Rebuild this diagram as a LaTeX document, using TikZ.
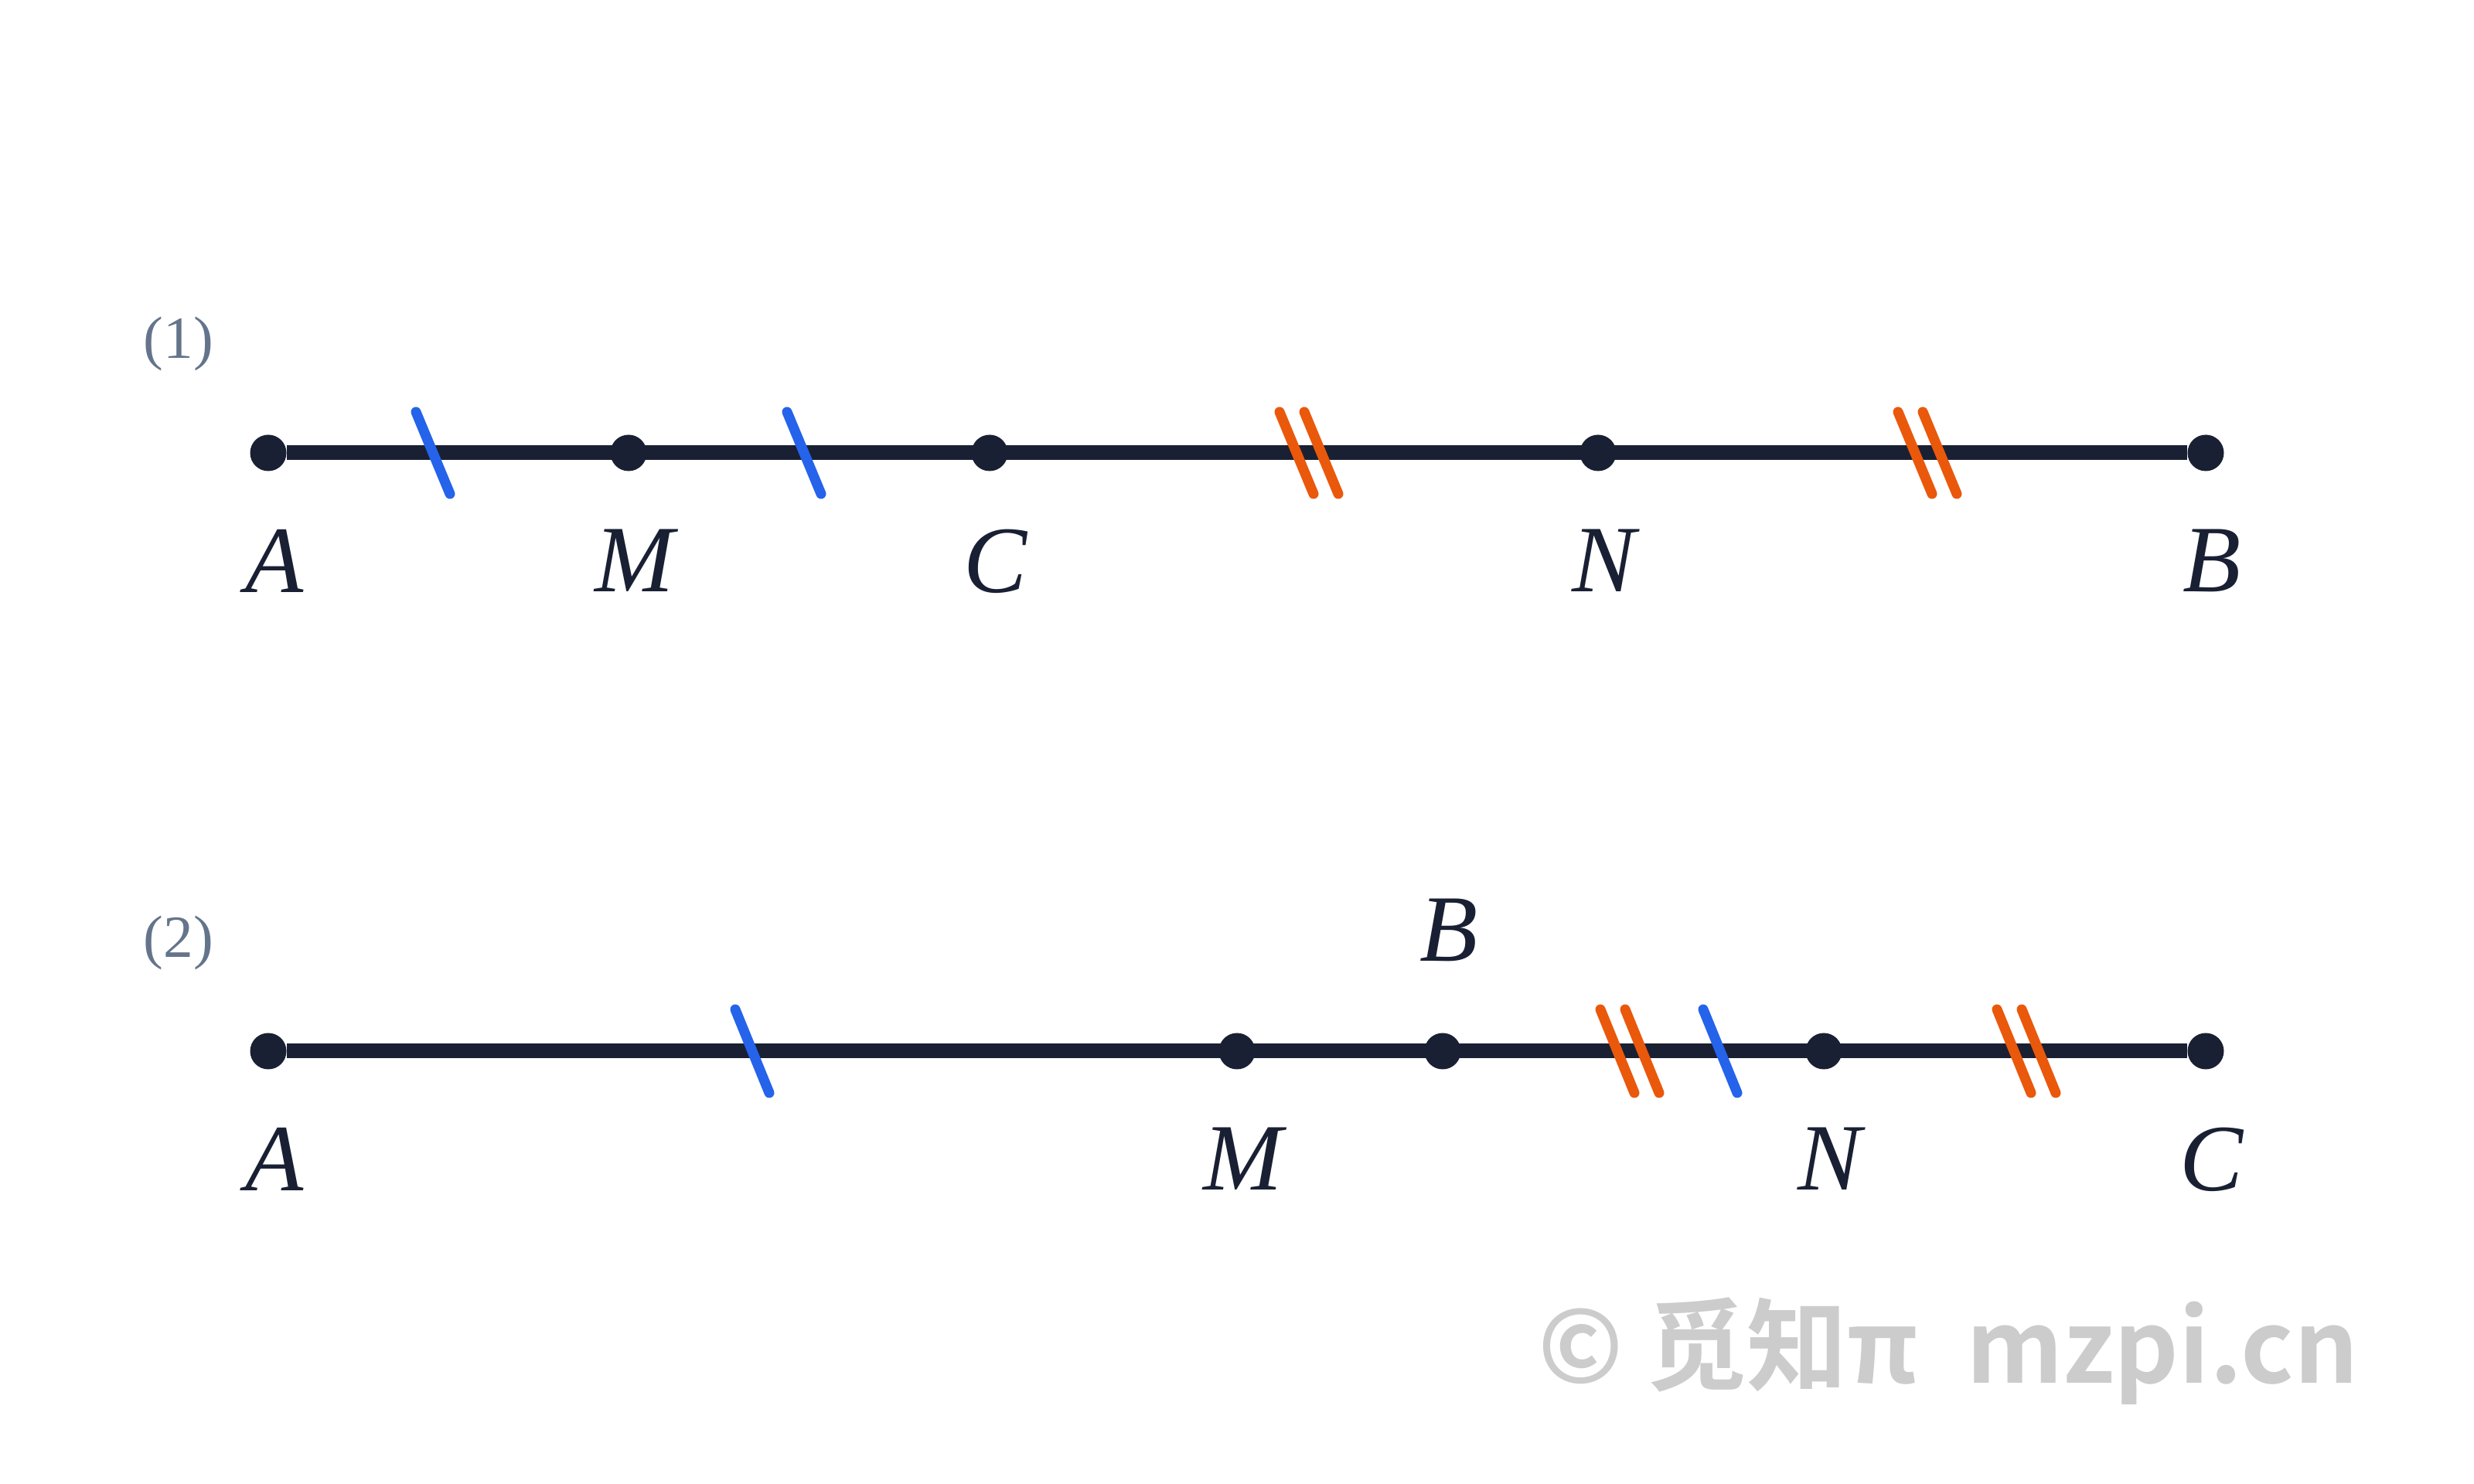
\documentclass[tikz,border=0pt]{standalone}
\usepackage{fontspec}
\setmainfont{Liberation Serif}
\newfontfamily\cjkfont{Noto Sans CJK SC}[BoldFont={Noto Sans CJK SC Bold}]
\usepackage{tikz}
\usetikzlibrary{positioning}
\definecolor{ink}{HTML}{1A2033}
\definecolor{tickblue}{HTML}{2563EB}
\definecolor{tickorange}{HTML}{EA580C}
\definecolor{slate}{HTML}{64748B}
\definecolor{wmgrey}{HTML}{CCCCCC}

\begin{document}
\begin{tikzpicture}[
    dot/.style={circle,fill=ink,inner sep=0pt,minimum size=0.47cm},
    seg/.style={ink,line width=0.19cm},
    lbl/.style={inner sep=0pt,xshift=0.08cm,text=ink,font=\fontsize{35}{40}\selectfont\itshape},
    partlbl/.style={text=slate,font=\fontsize{22}{26}\selectfont},
    bluemark/.style={tickblue,line width=0.13cm,line cap=round},
    orangemark/.style={tickorange,line width=0.13cm,line cap=round}
]
\useasboundingbox (0,0) rectangle (32,19.2);

% Part (1)
\node[partlbl] (p1) at (2.31,14.75) {(1)};
\node[dot] (A1) at (3.47,13.34) {};
\node[dot] (M1) at (8.13,13.34) {};
\node[dot] (C1) at (12.80,13.34) {};
\node[dot] (N1) at (20.67,13.34) {};
\node[dot] (B1) at (28.53,13.34) {};
\draw[seg] (A1) -- (B1);
% equal marks
\foreach \x in {5.60,10.40}
    \draw[bluemark] (\x-0.22,13.87) -- (\x+0.22,12.81);
\foreach \x in {16.93,24.93}
    \foreach \d in {-0.16,0.16}
        \draw[orangemark] (\x+\d-0.22,13.87) -- (\x+\d+0.22,12.81);
% Label points
\node[lbl,below=0.745cm of A1] (lA1) {A};
\node[lbl,below=0.745cm of M1] (lM1) {M};
\node[lbl,below=0.745cm of C1] (lC1) {C};
\node[lbl,below=0.745cm of N1] (lN1) {N};
\node[lbl,below=0.745cm of B1] (lB1) {B};

% Part (2)
\node[partlbl] (p2) at (2.31,7.00) {(2)};
\node[dot] (A2) at (3.47,5.60) {};
\node[dot] (M2) at (16.00,5.60) {};
\node[dot] (B2) at (18.66,5.60) {};
\node[dot] (N2) at (23.59,5.60) {};
\node[dot] (C2) at (28.53,5.60) {};
\draw[seg] (A2) -- (C2);
% equal marks
\foreach \x in {9.73,22.25}
    \draw[bluemark] (\x-0.22,6.14) -- (\x+0.22,5.06);
\foreach \x in {21.08,26.21}
    \foreach \d in {-0.16,0.16}
        \draw[orangemark] (\x+\d-0.22,6.14) -- (\x+\d+0.22,5.06);
% Label points
\node[lbl,below=0.745cm of A2] (lA2) {A};
\node[lbl,below=0.745cm of M2] (lM2) {M};
\node[lbl,above=0.915cm of B2] (lB2) {B};
\node[lbl,below=0.745cm of N2] (lN2) {N};
\node[lbl,below=0.745cm of C2] (lC2) {C};

% watermark
\node[anchor=base,text=wmgrey,font=\cjkfont\bfseries\fontsize{37}{44}\selectfont] (wm) at (25.2,1.30) {© 觅知π\hspace{0.25em} mzpi.cn};
\end{tikzpicture}
\end{document}
